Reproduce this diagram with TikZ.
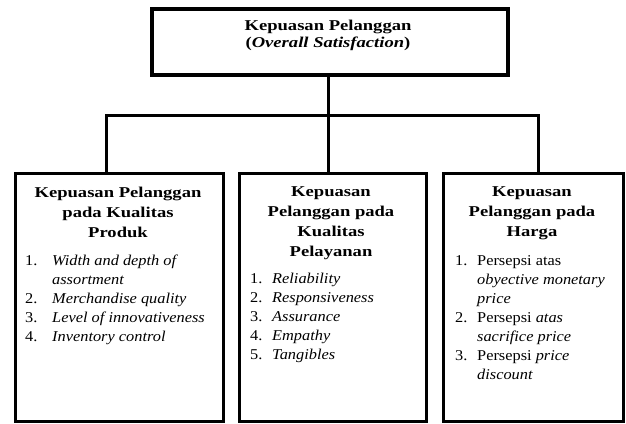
\documentclass[tikz,border=0pt]{standalone}
\usepackage{fontspec}
\setmainfont{Liberation Serif}
\newfontfamily\hfont{Liberation Serif}[FakeStretch=1.24]
\newfontfamily\bodyfont{Liberation Serif}[FakeStretch=1.09]
\begin{document}
\begin{tikzpicture}[x=1pt,y=-1pt,
  box/.style={draw, line width=3pt, inner sep=0pt, anchor=north west},
  conn/.style={line width=3pt},
  head/.style={font=\hfont\bfseries\fontsize{15}{20}\selectfont, align=center, inner sep=0pt, anchor=north},
  lst/.style={font=\bodyfont\fontsize{15}{19}\selectfont, inner sep=0pt, anchor=north west}]
\useasboundingbox (0,0) rectangle (626,423);

% top box
\node[box, line width=3.5pt, minimum width=356pt, minimum height=66pt] (top) at (150,7) {};
\node[head, font=\hfont\bfseries\fontsize{15}{17}\selectfont] (toptxt) at (328,19.8)
  {Kepuasan Pelanggan\\(\textit{Overall Satisfaction})};

% lower boxes
\node[box, minimum width=208pt, minimum height=248pt] (b1) at (14,172) {};
\node[box, minimum width=187pt, minimum height=248pt] (b2) at (238,172) {};
\node[box, minimum width=180pt, minimum height=248pt] (b3) at (442,172) {};

% connectors
\coordinate (hub) at (328,115);
\draw[conn] (hub |- top.south) -- (hub);
\draw[conn] (hub) -| ([xshift=-13pt]b1.north);
\draw[conn] (hub) -| ([xshift=5pt]b3.north);
\draw[conn] (hub) -- (hub |- b2.north);

% headings
\node[head] (h1) at (118,186.5) {Kepuasan Pelanggan\\pada Kualitas\\Produk};
\node[head] (h2) at (331,186.5) {Kepuasan\\Pelanggan pada\\Kualitas\\Pelayanan};
\node[head] (h3) at (532,186.5) {Kepuasan\\Pelanggan pada\\Harga};

% lists
\node[lst] (l1) at (25,251.7) {\begin{tabular}{@{}p{27pt}@{}l@{}}
1. & \textit{Width and depth of}\\
   & \textit{assortment}\\
2. & \textit{Merchandise quality}\\
3. & \textit{Level of innovativeness}\\
4. & \textit{Inventory control}
\end{tabular}};
\node[lst] (l2) at (250,270) {\begin{tabular}{@{}p{22pt}@{}l@{}}
1. & \textit{Reliability}\\
2. & \textit{Responsiveness}\\
3. & \textit{Assurance}\\
4. & \textit{Empathy}\\
5. & \textit{Tangibles}
\end{tabular}};
\node[lst] (l3) at (455,251.7) {\begin{tabular}{@{}p{22pt}@{}l@{}}
1. & Persepsi atas\\
   & \textit{obyective monetary}\\
   & \textit{price}\\
2. & Persepsi \textit{atas}\\
   & \textit{sacrifice price}\\
3. & Persepsi \textit{price}\\
   & \textit{discount}
\end{tabular}};
\end{tikzpicture}
\end{document}
